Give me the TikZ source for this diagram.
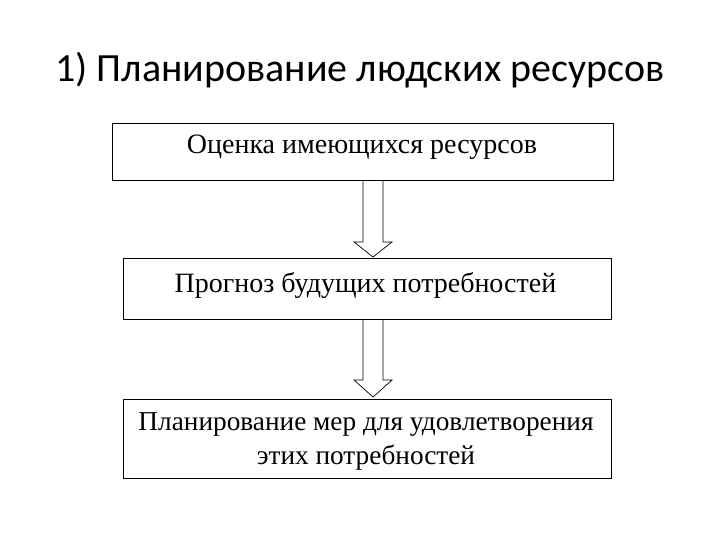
\documentclass[tikz,border=0pt]{standalone}
\usepackage{fontspec}
\setmainfont{Liberation Serif}
\newfontfamily\titlefont{Carlito}
\begin{document}
\begin{tikzpicture}[x=1pt,y=-1pt,
  stagebox/.style={draw=black, line width=0.9pt, fill=white, inner sep=0pt},
  boxtext/.style={font=\fontsize{28}{34}\selectfont, align=center, anchor=base, inner sep=0pt},
  hollowarrow/.style={draw=black, line width=0.7pt, fill=white}]
\useasboundingbox (0,0) rectangle (720,540);
\node[font=\titlefont\fontsize{40}{46}\selectfont, anchor=base] (title) at (360,82) {1) Планирование людских ресурсов};
% arrows (drawn first, boxes on top)
\coordinate (a1s) at (373,180);
\coordinate (a2s) at (373,319);
\draw[hollowarrow] (a1s) ++(-10,0) -- ++(0,62) -- ++(-9,0) -- (373,257) -- (392,242) -- ++(-9,0) -- ++(0,-62);
\draw[hollowarrow] (a2s) ++(-10,0) -- ++(0,61) -- ++(-9,0) -- (373,397) -- (392,380) -- ++(-9,0) -- ++(0,-61);
% boxes
\node[stagebox, minimum width=501pt, minimum height=57pt] (b1) at (362.5,151.5) {};
\node[stagebox, minimum width=488pt, minimum height=61pt] (b2) at (367,288.5) {};
\node[stagebox, minimum width=488pt, minimum height=79pt] (b3) at (367,438.5) {};
\node[boxtext] (t1) at (362,154) {Оценка имеющихся ресурсов};
\node[boxtext] (t2) at (365.5,292) {Прогноз будущих потребностей};
\node[boxtext, font=\fontsize{27.3}{34}\selectfont] (t3) at (366,464) {Планирование мер для удовлетворения\\этих потребностей};
\end{tikzpicture}
\end{document}
